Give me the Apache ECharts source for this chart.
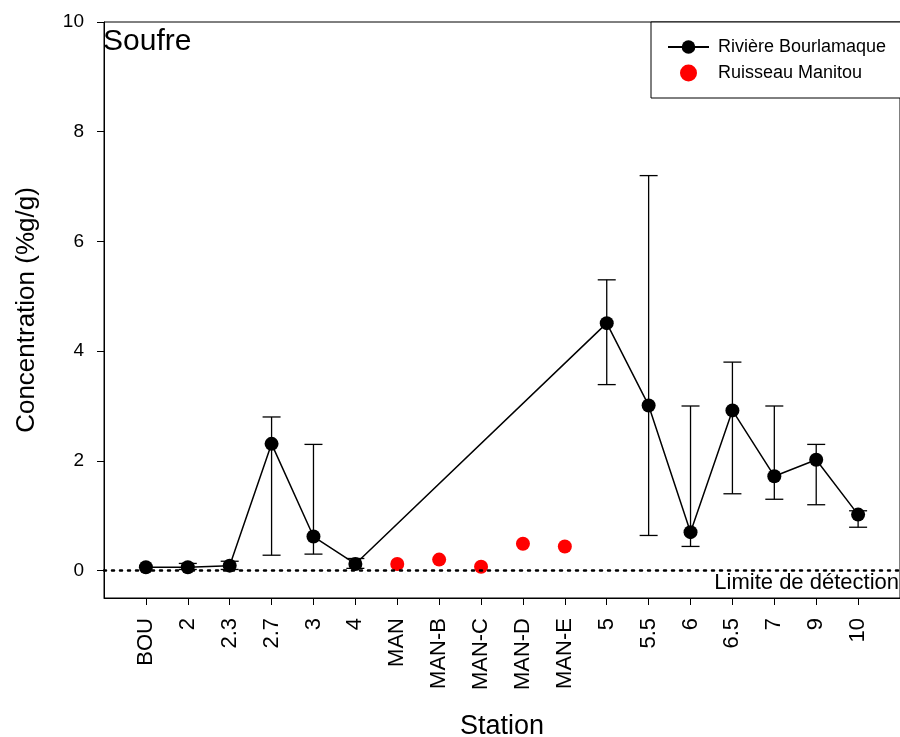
<!DOCTYPE html>
<html>
<head>
<meta charset="utf-8">
<script src="https://cdn.jsdelivr.net/npm/echarts@6/dist/echarts.min.js"></script>
<style>html,body{margin:0;padding:0;background:#fff}#c{width:900px;height:737px}</style>
</head>
<body>
<div id="c"></div>
<script>
var stations = ["BOU","2","2.3","2.7","3","4","MAN","MAN-B","MAN-C","MAN-D","MAN-E","5","5.5","6","6.5","7","9","10"];
var bourlamaque = [0.06,0.06,0.09,2.31,0.62,0.12,null,null,null,null,null,4.51,3.01,0.70,2.92,1.72,2.02,1.02];
var bourLow  = [null,0.02,0.02,0.28,0.30,0.04,null,null,null,null,null,3.39,0.64,0.44,1.40,1.30,1.20,0.79];
var bourHigh = [null,0.13,0.17,2.80,2.30,0.22,null,null,null,null,null,5.30,7.20,3.00,3.80,3.00,2.30,1.09];
var manitou = [null,null,null,null,null,null,0.12,0.20,0.07,0.49,0.44,null,null,null,null,null,null,null];
var yTicks = [0,2,4,6,8,10];
var detectionLimit = 0;

var FONT = 'Liberation Sans, Arial, sans-serif';
var lineData = [], errData = [], manData = [], xTicks = [];
stations.forEach(function(s, i){
  xTicks.push(i);
  if (bourlamaque[i] != null) lineData.push([i, bourlamaque[i]]);
  if (bourLow[i] != null) errData.push([i, bourLow[i], bourHigh[i]]);
  if (manitou[i] != null) manData.push([i, manitou[i]]);
});

var chart = echarts.init(document.getElementById('c'), null, {renderer:'canvas'});
chart.setOption({
  animation:false,
  backgroundColor:'#fff',
  grid:{left:104, top:22, right:0, bottom:139, show:true, borderColor:'#000', borderWidth:1, containLabel:false, outerBoundsMode:'none'},
  title:{text:'Soufre', left:103, top:27, padding:0, textStyle:{fontFamily:FONT, fontSize:30, fontWeight:'normal', color:'#000'}},
  legend:{
    left:651, top:22, orient:'vertical',
    padding:[16,60,16,16], itemGap:8, itemWidth:41, itemHeight:17,
    borderColor:'#000', borderWidth:1, backgroundColor:'#fff',
    textStyle:{fontFamily:FONT, fontSize:18, color:'#000', padding:[0,0,0,4]},
    data:['Rivière Bourlamaque','Ruisseau Manitou']
  },
  xAxis:{
    type:'value', min:-1, max:18,
    name:'Station', nameLocation:'middle', nameGap:115,
    nameTextStyle:{fontFamily:FONT, fontSize:27, color:'#000'},
    axisLine:{show:true, onZero:false, lineStyle:{color:'#000', width:1}},
    axisTick:{show:true, length:7, inside:false, customValues:xTicks, lineStyle:{color:'#000'}},
    axisLabel:{show:true, rotate:90, margin:20, customValues:xTicks, fontFamily:FONT, fontSize:22, color:'#000',
      formatter:function(v){ return stations[Math.round(v)] || ''; }},
    splitLine:{show:false}
  },
  yAxis:{
    type:'value', min:-0.5, max:10,
    name:'Concentration (%g/g)', nameLocation:'middle', nameGap:64, nameRotate:90,
    nameTextStyle:{fontFamily:FONT, fontSize:26, color:'#000'},
    axisLine:{show:true, onZero:false, lineStyle:{color:'#000', width:1}},
    axisTick:{show:true, length:7, customValues:yTicks, lineStyle:{color:'#000'}},
    axisLabel:{show:true, margin:20, customValues:yTicks, fontFamily:FONT, fontSize:19, color:'#000'},
    splitLine:{show:false}
  },
  series:[
    {
      name:'errors', type:'custom', silent:true, z:2,
      data:errData,
      encode:{x:0, y:[1,2]},
      renderItem:function(params, api){
        var x = api.value(0);
        var lo = api.coord([x, api.value(1)]);
        var hi = api.coord([x, api.value(2)]);
        var hw = 9;
        var st = {stroke:'#000', lineWidth:1.3};
        return {type:'group', children:[
          {type:'line', shape:{x1:lo[0], y1:lo[1], x2:hi[0], y2:hi[1]}, style:st},
          {type:'line', shape:{x1:lo[0]-hw, y1:lo[1], x2:lo[0]+hw, y2:lo[1]}, style:st},
          {type:'line', shape:{x1:hi[0]-hw, y1:hi[1], x2:hi[0]+hw, y2:hi[1]}, style:st}
        ]};
      }
    },
    {
      name:'Rivière Bourlamaque', type:'line', z:3,
      data:lineData,
      symbol:'circle', symbolSize:14,
      itemStyle:{color:'#000', opacity:1},
      lineStyle:{color:'#000', width:1.5},
      markLine:{
        silent:true, symbol:'none',
        lineStyle:{color:'#000', type:[2,6], width:2.5, cap:'round'},
        label:{show:true, position:'insideEndBottom', formatter:'Limite de détection', fontFamily:FONT, fontSize:22, color:'#000', distance:[1,1]},
        data:[{yAxis:detectionLimit}]
      }
    },
    {
      name:'Ruisseau Manitou', type:'scatter', z:3,
      data:manData,
      symbol:'circle', symbolSize:14,
      itemStyle:{color:'#ff0000', opacity:1}
    }
  ]
});
</script>
</body>
</html>
